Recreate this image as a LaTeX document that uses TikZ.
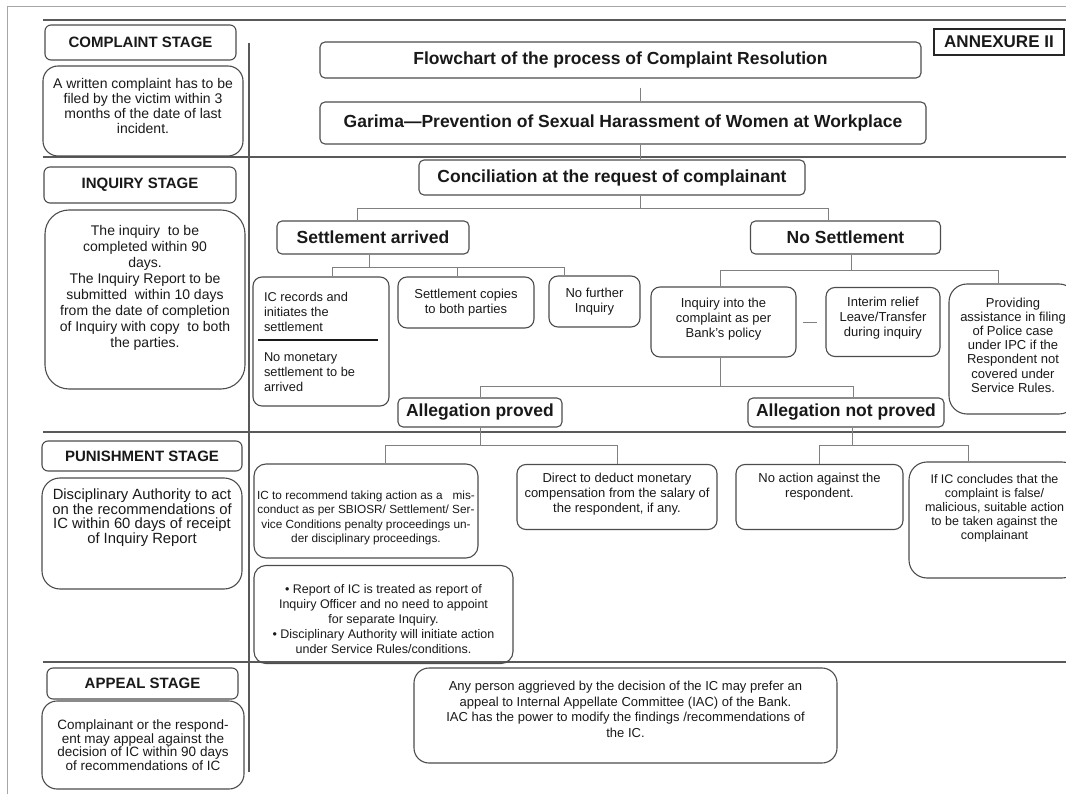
\documentclass[tikz,border=0pt]{standalone}
\usepackage{fontspec}
\setmainfont{Liberation Sans}
\tikzset{stage/.style={draw=black!70,line width=1.1pt,rounded corners=6pt,inner sep=0pt,font=\fontsize{15}{18}\selectfont\bfseries},note/.style={draw=black!70,line width=1.1pt,rounded corners=18pt,align=center,inner sep=0pt},head/.style={draw=black!70,line width=1.1pt,rounded corners=5pt,inner sep=0pt,font=\fontsize{17.5}{20}\selectfont\bfseries},box/.style={draw=black!70,line width=1.1pt,rounded corners=9pt,align=center,inner sep=0pt,font=\fontsize{13}{15}\selectfont},link/.style={draw=black!50,line width=0.9pt},sect/.style={draw=black!65,line width=1.3pt}}

\begin{document}
\begin{tikzpicture}[x=1pt,y=-1pt,text=black!90]
\useasboundingbox (0,0) rectangle (1066,794);
\draw[draw=black!35,line width=1pt] (7,794) |- (1066,7);
\foreach \y in {20,157,432,662} \draw[sect] (43,\y) -- (1066,\y);
\draw[sect] (249,43) -- (249,772);
\coordinate (spine) at (640,0);
% left column
\node[stage,minimum width=191pt,minimum height=35pt] (complaint) at(140.5,42.5){COMPLAINT STAGE};
\node[note,minimum width=200pt,minimum height=90pt,rounded corners=15pt,font=\fontsize{14}{14.8}\selectfont] (complainttxt) at(143,111){A written complaint has to be\\filed by the victim within 3\\months of the date of last\\incident.\\[-5pt]};
\node[stage,minimum width=192pt,minimum height=36pt] (inquiry) at(140,185){INQUIRY STAGE};
\node[note,minimum width=200pt,minimum height=179pt,rounded corners=24pt,font=\fontsize{14}{16}\selectfont] (inquirytxt) at(145,299.5){The inquiry\ \ to be\\completed within 90\\days.\\The Inquiry Report to be\\submitted\ \ within 10 days\\from the date of completion\\of Inquiry with copy\ \ to both\\the parties.\\[10pt]};
\node[stage,minimum width=200pt,minimum height=30pt] (punish) at(142,456){PUNISHMENT STAGE};
\node[note,minimum width=200pt,minimum height=111pt,font=\fontsize{14.8}{14.8}\selectfont] (punishtxt) at(142,533.5){Disciplinary Authority to act\\on the recommendations of\\IC within 60 days of receipt\\of Inquiry Report\\[20pt]};
\node[stage,minimum width=191pt,minimum height=31pt] (appeal) at(142.5,683.5){APPEAL STAGE};
\node[note,minimum width=202pt,minimum height=88pt,rounded corners=15pt,font=\fontsize{13.5}{13.5}\selectfont] (appealtxt) at(143,745){Complainant or the respond-\\ent may appeal against the\\decision of IC within 90 days\\of recommendations of IC};
% flowchart
\node[draw=black!85,line width=2pt,minimum width=130pt,minimum height=26pt,inner sep=0pt,font=\fontsize{17}{20}\selectfont\bfseries] (annex) at(999,42){ANNEXURE II};
\node[head,minimum width=601pt,minimum height=36pt] (title) at(620.5,60){Flowchart of the process of Complaint Resolution};
\node[head,minimum width=606pt,minimum height=42pt] (garima) at(623,123){Garima—Prevention of Sexual Harassment of Women at Workplace};
\node[head,minimum width=386pt,minimum height=35pt] (concil) at(612,177.5){Conciliation at the request of complainant};
\node[head,minimum width=192pt,minimum height=33pt] (settle) at(373,237.5){Settlement arrived};
\node[head,minimum width=190pt,minimum height=33pt] (nosettle) at(845.5,237.5){No Settlement};
\node[box,minimum width=136pt,minimum height=129pt,align=left,font=\fontsize{12.8}{15}\selectfont] (icrec) at(321,341.5){IC records and\\initiates the\\settlement\\[-5pt]\hspace*{-6pt}\rule{120pt}{1.6pt}\\[5pt]No monetary\\settlement to be\\arrived};
\node[box,minimum width=136pt,minimum height=51pt] (copies) at(466,302.5){Settlement copies\\to both parties};
\node[box,minimum width=91pt,minimum height=51pt] (nofurther) at(594.5,301.5){No further\\Inquiry};
\node[box,minimum width=145pt,minimum height=70pt] (inqbank) at(723.5,322){Inquiry into the\\complaint as per\\Bank’s policy\\[-6pt]};
\node[box,minimum width=114pt,minimum height=69pt] (interim) at(883,322){Interim relief\\Leave/Transfer\\during inquiry\\[-4pt]};
\node[box,minimum width=128pt,minimum height=130pt,rounded corners=18pt,font=\fontsize{13}{14.2}\selectfont] (police) at(1013,349){Providing\\assistance in filing\\of Police case\\under IPC if the\\Respondent not\\covered under\\Service Rules.\\[-6pt]};
\node[head,minimum width=164pt,minimum height=29pt] (proved) at(480,412.5){Allegation proved};
\node[head,minimum width=196pt,minimum height=29pt] (notproved) at(846,412.5){Allegation not proved};
\node[box,minimum width=224pt,minimum height=94pt,rounded corners=12pt,font=\fontsize{11.8}{14.5}\selectfont] (misconduct) at(366,511){\rule{0pt}{22pt}IC to recommend taking action as a\ \ \ mis-\\conduct as per SBIOSR/ Settlement/ Ser-\\vice Conditions penalty proceedings un-\\der disciplinary proceedings.};
\node[box,minimum width=259pt,minimum height=98pt,rounded corners=12pt,font=\fontsize{12.5}{14.8}\selectfont] (inqofficer) at(383.5,614.5){\rule{0pt}{18pt}• Report of IC is treated as report of\\Inquiry Officer and no need to appoint\\for separate Inquiry.\\• Disciplinary Authority will initiate action\\under Service Rules/conditions.};
\node[box,minimum width=200pt,minimum height=65pt] (deduct) at(617,497){Direct to deduct monetary\\compensation from the salary of\\the respondent, if any.\\[-6pt]};
\node[box,minimum width=167pt,minimum height=65pt] (noaction) at(819.5,497){No action against the\\respondent.\\[8pt]};
\node[box,minimum width=171pt,minimum height=116pt,rounded corners=18pt,font=\fontsize{12.5}{14}\selectfont] (falsecase) at(994.5,520){If IC concludes that the\\complaint is false/\\malicious, suitable action\\to be taken against the\\complainant\\[13pt]};
\node[box,minimum width=423pt,minimum height=95pt,rounded corners=15pt,font=\fontsize{13}{15.7}\selectfont] (iac) at(625.5,715.5){Any person aggrieved by the decision of the IC may prefer an\\appeal to Internal Appellate Committee (IAC) of the Bank.\\IAC has the power to modify the findings /recommendations of\\the IC.\\[-3pt]};
% connectors
\draw[link,shorten <=9pt] (title.south -| spine) -- (garima.north -| spine);
\draw[link] (garima.south -| spine) -- (concil.north -| spine);
\draw[link] (concil.south -| spine) -- ++(0,13) -| ([xshift=-16pt]settle.north);
\draw[link] (concil.south -| spine) -- ++(0,13) -| ([xshift=-17pt]nosettle.north);
\draw[link] ([xshift=-4pt]settle.south) -- ++(0,13) -| ([xshift=11pt]icrec.north);
\draw[link] ([xshift=-4pt]settle.south) -- ++(0,13) -| ([xshift=-9pt]copies.north);
\draw[link] ([xshift=-4pt]settle.south) -- ++(0,13) -| ([xshift=-30pt]nofurther.north);
\draw[link] ([xshift=6pt]nosettle.south) -- ++(0,16) -| ([xshift=-3pt]inqbank.north);
\draw[link] ([xshift=6pt]nosettle.south) -- ++(0,16) -| ([xshift=-15pt]police.north);
\draw[link,shorten <=6pt,shorten >=8pt] (inqbank.east) -- (interim.west);
\draw[link] ([xshift=-3pt]inqbank.south) -- ++(0,29) -| (proved.north);
\draw[link] ([xshift=-3pt]inqbank.south) -- ++(0,29) -| ([xshift=7pt]notproved.north);
\draw[link] (proved.south) -- ++(0,18) -| ([xshift=19pt]misconduct.north);
\draw[link] (proved.south) -- ++(0,18) -| (deduct.north);
\draw[link] ([xshift=6pt]notproved.south) -- ++(0,18) -| (noaction.north);
\draw[link] ([xshift=6pt]notproved.south) -- ++(0,18) -| ([xshift=-26pt]falsecase.north);
\end{tikzpicture}
\end{document}
